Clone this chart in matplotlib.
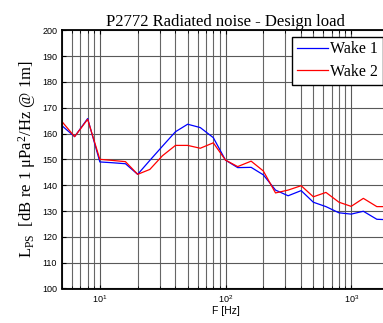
import numpy as np
import matplotlib
matplotlib.use("Agg")
import matplotlib.pyplot as plt
from matplotlib.ticker import LogLocator, NullFormatter, MultipleLocator

freq = [5, 6.3, 8, 10, 12.5, 16, 20, 25, 31.5, 40, 50, 63, 80, 100, 125, 160,
        200, 250, 315, 400, 500, 630, 800, 1000, 1250, 1600, 2000]
wake1 = [163.0, 158.8, 165.8, 149.0, 148.7, 148.3, 144.2, 149.6, 155.1, 160.7, 163.6,
         162.3, 158.4, 149.7, 146.8, 146.9, 144.0, 138.1, 135.9, 137.9, 133.4, 131.7,
         129.3, 128.8, 129.9, 126.8, 126.6]
wake2 = [164.6, 158.8, 165.5, 150.0, 149.6, 149.1, 144.2, 146.1, 151.4, 155.4, 155.4,
         154.3, 156.4, 149.7, 147.2, 149.3, 145.5, 137.0, 138.1, 139.8, 135.5, 137.2,
         133.4, 131.8, 134.9, 131.7, 131.7]
series_labels = ["Wake 1", "Wake 2"]
title = "P2772 Radiated noise - Design load"

plt.rcParams["mathtext.fontset"] = "custom"
plt.rcParams["mathtext.rm"] = "Liberation Serif"
plt.rcParams["mathtext.it"] = "Liberation Serif:italic"

fig = plt.figure(figsize=(3.83, 3.23), dpi=100)
ax = fig.add_axes([62/383, 34.5/323, (389-62)/383, (288.5-30.2)/323])

ax.plot(freq, wake1, color="#0000ff", lw=0.9, label=series_labels[0])
ax.plot(freq, wake2, color="#ff0000", lw=0.9, label=series_labels[1])

ax.set_xscale("log")
ax.set_xlim(5, 2000)
ax.set_ylim(100, 200)
ax.yaxis.set_major_locator(MultipleLocator(10))
ax.xaxis.set_major_locator(LogLocator(base=10, numticks=10))
ax.xaxis.set_minor_locator(LogLocator(base=10, subs=np.arange(2, 10), numticks=20))
ax.xaxis.set_minor_formatter(NullFormatter())

ax.grid(True, which="major", axis="both", color="0.35", lw=0.8)
ax.grid(True, which="minor", axis="x", color="0.4", lw=0.8)
ax.set_axisbelow(True)

ax.tick_params(which="both", direction="in", top=True, right=True,
               labelsize=6.5, colors="black", labelfontfamily="Liberation Sans")
ax.tick_params(which="major", length=3, width=0.8)
ax.tick_params(which="minor", length=2, width=0.6)
for s in ax.spines.values():
    s.set_linewidth(1.3)

ax.set_title(title, fontsize=12, family="Liberation Serif", pad=3)
ax.set_xlabel("F [Hz]", fontsize=7.5, family="Liberation Sans", labelpad=1)
ax.set_ylabel(r"$\mathrm{L}_{\mathrm{PS}}$  [dB re 1 $\mathrm{\mu}$Pa$^2$/Hz @ 1m]",
              fontsize=12, family="Liberation Serif", labelpad=3)

leg = ax.legend(loc="upper right", prop={"family": "Liberation Serif", "size": 11.5},
                frameon=True, fancybox=False, edgecolor="black", framealpha=1,
                borderaxespad=0.4, handlelength=1.9, handletextpad=0.15,
                borderpad=0.3, labelspacing=0.4)
leg.get_frame().set_linewidth(1.0)

fig.savefig("out.png", dpi=100)
